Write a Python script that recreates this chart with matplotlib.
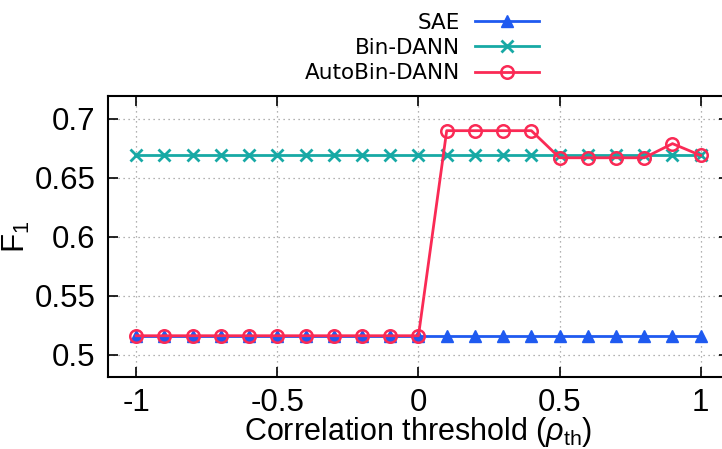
import numpy as np
import matplotlib
matplotlib.use("Agg")
import matplotlib.pyplot as plt

plt.rcParams['font.family'] = ['Liberation Sans', 'DejaVu Sans']
plt.rcParams['mathtext.fontset'] = 'custom'
plt.rcParams['mathtext.rm'] = 'Liberation Sans'
plt.rcParams['mathtext.it'] = 'Liberation Sans:italic'

thresholds = np.round(np.arange(-1.0, 1.01, 0.1), 1)
sae = [0.516] * 21
bin_dann = [0.669] * 21
autobin_dann = [0.516] * 11 + [0.690, 0.690, 0.690, 0.690,
                               0.667, 0.667, 0.667, 0.667, 0.679, 0.669]

fig = plt.figure(figsize=(7.22, 4.49), dpi=100)
ax = fig.add_axes([0.1496, 0.1604, 0.860, 0.626])

ax.plot(thresholds, sae, color='#1f5af0', marker='^', markersize=9,
        linewidth=2, label='SAE')
ax.plot(thresholds, bin_dann, color='#17a9a5', marker='x', markersize=8,
        markeredgewidth=2, linewidth=2, label='Bin-DANN')
ax.plot(thresholds, autobin_dann, color='#fa2a55', marker='o', markersize=9,
        markerfacecolor='none', markeredgewidth=1.8, linewidth=2,
        label='AutoBin-DANN')

ax.set_xlim(-1.1, 1.1)
ax.set_ylim(0.481, 0.7195)
ax.set_xticks([-1, -0.5, 0, 0.5, 1])
ax.set_xticklabels(['-1', '-0.5', '0', '0.5', '1'])
ax.set_yticks([0.5, 0.55, 0.6, 0.65, 0.7])
ax.set_yticklabels(['0.5', '0.55', '0.6', '0.65', '0.7'])
ax.tick_params(direction='in', length=7, width=1.2, labelsize=22.5,
               top=True, right=True, pad=9)
ax.tick_params(axis='x', pad=8)
ax.grid(True, linestyle=(0, (1, 3)), color='#999999', linewidth=0.9)
for s in ax.spines.values():
    s.set_linewidth(1.5)

ax.set_xlabel(r'Correlation threshold ($\rho_{\rm th}$)', fontsize=22, labelpad=-2)
ax.set_ylabel(r'F$_1$', fontsize=22.5)
ax.yaxis.set_label_coords(-0.122, 0.5)

fig.legend(loc='upper right', bbox_to_anchor=(0.774, 1.015), frameon=False,
           markerfirst=False, prop={'family': 'DejaVu Sans', 'size': 15.5},
           handlelength=3.0, labelspacing=0.25, handletextpad=0.7)

plt.savefig('out.png', dpi=100)
